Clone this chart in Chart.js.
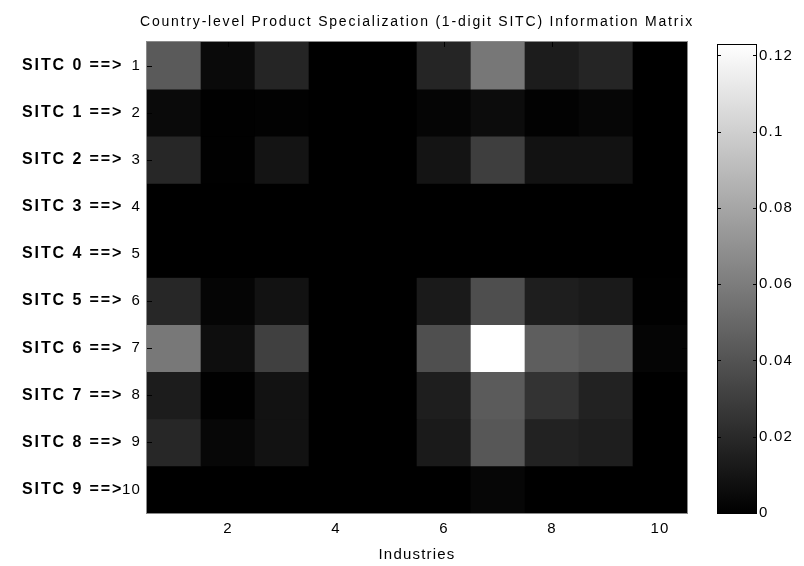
<!DOCTYPE html>
<html>
<head>
<meta charset="utf-8">
<script src="https://cdn.jsdelivr.net/npm/chart.js@4/dist/chart.umd.min.js"></script>
<style>
  html, body { margin: 0; padding: 0; background: #fff; }
  #marco { position: relative; width: 804px; height: 566px; }
  #mapa { position: absolute; left: 0; top: 0; }
  #barra { position: absolute; left: 700px; top: 0; }
</style>
</head>
<body>
<div id="marco">
  <canvas id="mapa" width="804" height="566"></canvas>
  <canvas id="barra" width="104" height="566"></canvas>
</div>
<script>
// Industrias (columnas) y grupos SITC (filas)
const industrias = ["1", "2", "3", "4", "5", "6", "7", "8", "9", "10"];
const gruposSitc = ["SITC 0", "SITC 1", "SITC 2", "SITC 3", "SITC 4",
                    "SITC 5", "SITC 6", "SITC 7", "SITC 8", "SITC 9"];

// Valores, una fila por grupo SITC
const sitc0 = [0.0434, 0.0048, 0.0178, 0, 0, 0.0178, 0.0574, 0.0135, 0.0178, 0];
const sitc1 = [0.0048, 0.0005, 0.0010, 0, 0, 0.0024, 0.0058, 0.0010, 0.0029, 0];
const sitc2 = [0.0188, 0.0005, 0.0096, 0, 0, 0.0096, 0.0299, 0.0087, 0.0087, 0];
const sitc3 = [0, 0, 0, 0, 0, 0, 0, 0, 0, 0];
const sitc4 = [0, 0, 0, 0, 0, 0, 0, 0, 0, 0];
const sitc5 = [0.0188, 0.0024, 0.0087, 0, 0, 0.0125, 0.0376, 0.0145, 0.0125, 0.0005];
const sitc6 = [0.0579, 0.0068, 0.0309, 0, 0, 0.0381, 0.1230, 0.0453, 0.0420, 0.0024];
const sitc7 = [0.0135, 0.0005, 0.0087, 0, 0, 0.0145, 0.0439, 0.0246, 0.0164, 0];
const sitc8 = [0.0188, 0.0034, 0.0087, 0, 0, 0.0125, 0.0420, 0.0164, 0.0145, 0];
const sitc9 = [0, 0, 0, 0, 0, 0, 0.0029, 0, 0, 0];

// Marcas de la barra de color
const marcasBarra = [0, 0.02, 0.04, 0.06, 0.08, 0.1, 0.12];

const matriz = [sitc0, sitc1, sitc2, sitc3, sitc4, sitc5, sitc6, sitc7, sitc8, sitc9];
const vmax = Math.max(...matriz.flat());

function gris(v) {
  const g = Math.round(Math.min(v / vmax, 1) * 255);
  return `rgb(${g},${g},${g})`;
}

const fuente = "'Liberation Sans', Arial, Helvetica, sans-serif";

// Título, prefijos en negrita y borde con marcas hacia dentro
const decoracion = {
  id: "decoracion",
  beforeDraw(chart) {
    chart.ctx.letterSpacing = "1.2px";
  },
  beforeDatasetsDraw(chart) {
    // fondo negro para que no se vean costuras entre filas
    const { ctx, chartArea: a } = chart;
    ctx.save();
    ctx.fillStyle = "#000";
    ctx.fillRect(a.left, a.top, a.right - a.left, a.bottom - a.top);
    ctx.restore();
  },
  afterDraw(chart) {
    const { ctx, chartArea: a, scales } = chart;
    ctx.save();
    ctx.fillStyle = "#000";
    ctx.textBaseline = "middle";

    ctx.letterSpacing = "1.8px";
    ctx.font = "14px " + fuente;
    ctx.textAlign = "center";
    ctx.fillText("Country-level Product Specialization (1-digit SITC) Information Matrix",
      (a.left + a.right) / 2, 22);

    ctx.letterSpacing = "1.9px";
    ctx.font = "bold 16px " + fuente;
    ctx.textAlign = "left";
    gruposSitc.forEach((g, i) => {
      const y = scales.y.getPixelForValue(i + 1);
      ctx.fillText(g + " ==>", 22, y);
    });

    ctx.strokeStyle = "#000";
    ctx.lineWidth = 1;
    scales.x.ticks.forEach((t, i) => {
      if (i % 2 === 0) return;
      const x = Math.round(scales.x.getPixelForValue(i)) + 0.5;
      ctx.beginPath();
      ctx.moveTo(x, a.top); ctx.lineTo(x, a.top + 5);
      ctx.moveTo(x, a.bottom); ctx.lineTo(x, a.bottom - 5);
      ctx.stroke();
    });
    scales.y.ticks.forEach(t => {
      const y = Math.round(scales.y.getPixelForValue(t.value)) + 0.5;
      ctx.beginPath();
      ctx.moveTo(a.left, y); ctx.lineTo(a.left + 5, y);
      ctx.moveTo(a.right, y); ctx.lineTo(a.right - 5, y);
      ctx.stroke();
    });

    ctx.strokeStyle = "#8a8a8a";
    ctx.strokeRect(a.left - 0.5, a.top - 0.5, a.right - a.left + 1, a.bottom - a.top + 1);
    ctx.restore();
  }
};

new Chart(document.getElementById("mapa"), {
  type: "bar",
  data: {
    labels: industrias,
    datasets: matriz.map((fila, i) => ({
      label: gruposSitc[i],
      data: fila.map(() => [i + 0.5, i + 1.5]),
      backgroundColor: fila.map(gris),
      borderWidth: 0,
      barPercentage: 1,
      categoryPercentage: 1
    }))
  },
  options: {
    responsive: false,
    animation: false,
    devicePixelRatio: 1,
    layout: { padding: { top: 42, right: 117, left: 0, bottom: 0 } },
    plugins: {
      legend: { display: false },
      tooltip: { enabled: false },
      title: { display: false }
    },
    scales: {
      x: {
        stacked: true,
        grid: { display: false, drawTicks: false },
        border: { display: false },
        ticks: {
          autoSkip: false,
          maxRotation: 0,
          padding: 7,
          color: "#000",
          font: { size: 15, family: fuente },
          callback: (v, i) => (i % 2 === 1 ? industrias[i] : "")
        },
        title: {
          display: true,
          text: "Industries",
          color: "#000",
          font: { size: 15, family: fuente },
          padding: { top: 0, bottom: 2 }
        },
        afterFit: s => { s.height = 53; }
      },
      y: {
        type: "linear",
        stacked: false,
        reverse: true,
        min: 0.5,
        max: 10.5,
        grid: { display: false, drawTicks: false },
        border: { display: false },
        afterBuildTicks: s => { s.ticks = industrias.map((_, i) => ({ value: i + 1 })); },
        ticks: {
          padding: 6,
          color: "#000",
          font: { size: 15, family: fuente },
          callback: v => industrias[v - 1]
        },
        afterFit: s => { s.width = 147; }
      }
    }
  },
  plugins: [decoracion]
});

// Barra de color
const marcoBarra = {
  id: "marcoBarra",
  beforeDraw(chart) {
    chart.ctx.letterSpacing = "1.2px";
  },
  afterDraw(chart) {
    const { ctx, chartArea: a, scales } = chart;
    ctx.save();
    ctx.strokeStyle = "#000";
    ctx.lineWidth = 1;
    marcasBarra.forEach(v => {
      const y = Math.round(scales.y.getPixelForValue(v)) + 0.5;
      ctx.beginPath();
      ctx.moveTo(a.left, y); ctx.lineTo(a.left + 4, y);
      ctx.moveTo(a.right, y); ctx.lineTo(a.right - 4, y);
      ctx.stroke();
    });
    ctx.strokeRect(a.left + 0.5, a.top + 0.5, a.right - a.left - 1, a.bottom - a.top);
    ctx.restore();
  }
};

new Chart(document.getElementById("barra"), {
  type: "bar",
  data: {
    labels: ["escala"],
    datasets: [{
      data: [[0, vmax]],
      backgroundColor: c => {
        const { ctx, chartArea } = c.chart;
        if (!chartArea) return "#000";
        const g = ctx.createLinearGradient(0, chartArea.bottom, 0, chartArea.top);
        g.addColorStop(0, "#000");
        g.addColorStop(1, "#fff");
        return g;
      },
      borderWidth: 0,
      barPercentage: 1,
      categoryPercentage: 1
    }]
  },
  options: {
    responsive: false,
    animation: false,
    devicePixelRatio: 1,
    layout: { padding: { top: 44, bottom: 53, left: 17, right: 0 } },
    plugins: { legend: { display: false }, tooltip: { enabled: false } },
    scales: {
      x: { display: false },
      y: {
        position: "right",
        min: 0,
        max: vmax,
        grid: { display: false, drawTicks: false },
        border: { display: false },
        afterBuildTicks: s => { s.ticks = marcasBarra.map(v => ({ value: v })); },
        ticks: {
          padding: 2,
          color: "#000",
          font: { size: 15, family: fuente },
          callback: v => String(+v.toFixed(2))
        },
        afterFit: s => { s.width = 47; }
      }
    }
  },
  plugins: [marcoBarra]
});
</script>
</body>
</html>
